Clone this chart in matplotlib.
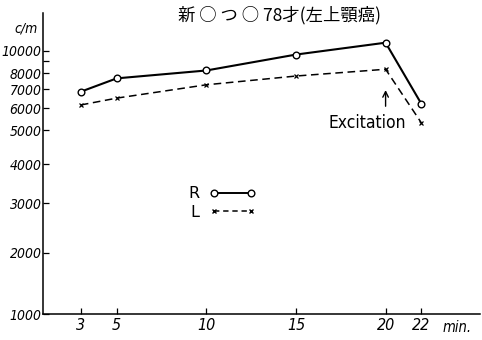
import numpy as np
import matplotlib
matplotlib.use('Agg')
import matplotlib.pyplot as plt
from matplotlib.lines import Line2D

# data
minutes = [3, 5, 10, 15, 20, 22]
r_counts = [6850, 7650, 8200, 9600, 10700, 6200]
l_counts = [6150, 6500, 7250, 7800, 8300, 5300]
y_ticks = [1000, 2000, 3000, 4000, 5000, 6000, 7000, 8000, 10000]
y_minor = [9000]
title = '新 ○ つ ○ 78才(左上顎癌)'

# the hand-drawn y axis is only roughly logarithmic: map log10(value) to the drawn height
scale_log = np.log10([100, 1000, 2000, 3000, 4000, 5000, 6000, 7000, 8000, 9000, 10000, 100000])
scale_pix = [-266, 0, 61, 111, 150, 184, 206, 225, 241, 253, 263.5, 529.5]


def fwd(v):
    v = np.maximum(np.asarray(v, dtype=float), 1e-9)
    return np.interp(np.log10(v), scale_log, scale_pix)


def inv(p):
    return 10 ** np.interp(p, scale_pix, scale_log)


num_font = dict(family='DejaVu Sans', stretch='condensed', style='italic')
cjk_font = ['Noto Sans CJK JP', 'DejaVu Sans']

fig = plt.figure(figsize=(4.82, 3.4), dpi=100)
ax = fig.add_axes([43 / 482, 26 / 340, 437 / 482, 301 / 340])
ax.set_yscale('function', functions=(fwd, inv))

ax.plot(minutes, r_counts, '-', color='black', lw=1.5, marker='o', ms=4.8,
        mfc='white', mec='black', mew=1.0, label='R')
ax.plot(minutes, l_counts, '--', color='black', lw=1.1, marker='x', ms=3.5,
        mew=0.9, dashes=(5, 3), label='L')

ax.set_xlim(16 / 18, 453 / 18 + 0.1)
ax.set_ylim(1000, inv(301))

ax.set_xticks(minutes)
ax.set_xticklabels([str(m) for m in minutes], fontsize=11.5, **num_font)
ax.set_yticks(y_ticks)
ax.set_yticklabels([str(v) for v in y_ticks], fontsize=10, **num_font)
ax.set_yticks(y_minor, minor=True)
ax.tick_params(axis='both', which='both', direction='in', length=4, width=0.9)
ax.tick_params(axis='y', pad=1)
ax.tick_params(axis='x', pad=3)

for side in ['top', 'right']:
    ax.spines[side].set_visible(False)
for side in ['left', 'bottom']:
    ax.spines[side].set_linewidth(1.1)

ax.text(24.0, -0.045, 'min.', transform=ax.get_xaxis_transform(), ha='center', va='center',
        fontsize=10.5, **num_font)
fig.text(26 / 482, 1 - 29 / 340, 'c/m', ha='center', va='center', fontsize=10, **num_font)
fig.text(280 / 482, 1 - 15 / 340, title, ha='center', va='center',
         family=cjk_font, fontsize=12.5)

# excitation marker
ax.annotate('', xy=(20, 7100), xytext=(20, 5950),
            arrowprops=dict(arrowstyle='->', color='black', lw=1.0))
ax.text(19.0, 5300, 'Excitation', ha='center', va='center', fontsize=12.5, family='DejaVu Sans',
        stretch='condensed')

handles = [Line2D([], [], color='black', lw=1.4, marker='o', ms=4.8, mfc='white', mec='black'),
           Line2D([], [], color='black', lw=1.1, ls='--', dashes=(3.5, 2.5), marker='x', ms=3.5)]
fig.legend(handles, ['R', 'L'], loc='center', bbox_to_anchor=(222 / 482, 1 - 203 / 340),
           markerfirst=False, numpoints=2, frameon=False, handlelength=2.9,
           handletextpad=0.6, labelspacing=0.2, prop={'size': 11.5})

fig.savefig('out.png', dpi=100)
